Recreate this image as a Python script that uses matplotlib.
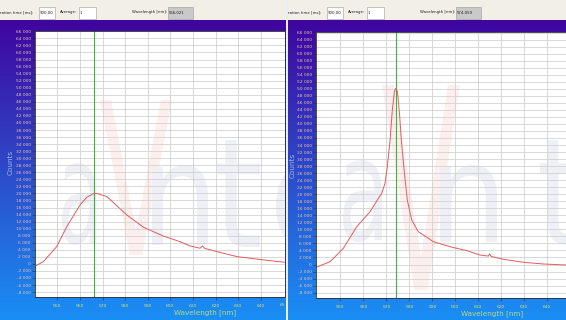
import matplotlib
matplotlib.use("Agg")
import matplotlib.pyplot as plt
import numpy as np
from matplotlib.patches import Rectangle, PathPatch
from matplotlib.textpath import TextPath
from matplotlib.font_manager import FontProperties
from matplotlib.transforms import Affine2D
from matplotlib.ticker import FuncFormatter

W, H = 566, 320

# Spektrum links (Wellenlaenge in nm, Counts)
left_wl = [540.6, 543.8, 549.7, 554.2, 560.0, 563.0, 565.9, 567.4, 571.9, 580.7,
           588.1, 596.9, 604.3, 608.7, 613.1, 614.3, 615.2, 620.5, 629.4, 641.2, 650.7]
left_counts = [-500, 650, 4900, 10600, 16700, 18900, 19900, 20000, 19100, 13900,
               10400, 7900, 6300, 5100, 4450, 5100, 4400, 3500, 2070, 1130, 450]

# Spektrum rechts
right_wl = [539.5, 545.5, 551.3, 557.1, 562.9, 566.5, 568.0, 569.4, 570.4, 571.6,
            572.6, 573.5, 574.1, 574.8, 575.7, 576.5, 577.7, 579.1, 581.0, 583.9,
            586.1, 590.4, 597.7, 605.0, 610.7, 614.3, 614.9, 615.6, 620.9, 629.6,
            638.3, 648.1]
right_counts = [-800, 800, 4600, 10750, 15000, 18800, 20250, 23100, 27800, 35400,
                44000, 49200, 50100, 49200, 43000, 35400, 26900, 18350, 12650, 9300,
                8400, 6500, 5060, 3930, 2700, 2400, 3000, 2300, 1480, 630,
                140, -140]

marker_wl = [566.021, 574.059]
marker_txt = ["566,021", "574,059"]

yticks = list(range(-8000, 66001, 2000))
xticks_left = list(range(550, 651, 10))
xticks_right = list(range(550, 641, 10))

fig = plt.figure(figsize=(W / 100, H / 100), dpi=100)

# Hintergrund: Verlauf lila -> blau
bg = fig.add_axes([0, 0, 1, 1])
bg.set_xlim(0, W)
bg.set_ylim(H, 0)
bg.axis("off")
t = np.linspace(0, 1, 300)[:, None]
top = np.array([0.25, 0.02, 0.62])
bot = np.array([0.10, 0.56, 0.96])
grad = (top * (1 - t) + bot * t)[:, None, :]
grad = np.repeat(grad, 2, axis=1)
bg.imshow(grad, extent=(0, W, H, 20), aspect="auto", origin="upper")
bg.add_patch(Rectangle((0, 0), W, 20, fc="#f1efe6", ec="none"))
bg.add_patch(Rectangle((286, 0), 2, H, fc="#e8ecf4", ec="none"))


def px(x0, y0, x1, y1):
    return [x0 / W, 1 - y1 / H, (x1 - x0) / W, (y1 - y0) / H]


def toolbar(x, wl_txt):
    kw = dict(fontsize=2.8, va="center", color="#202020")
    bg.text(x, 12.5, "ration time [ms]:", **kw)
    bg.add_patch(Rectangle((x + 39, 7), 16, 12, fc="white", ec="#9a9a9a", lw=0.4))
    bg.text(x + 40, 12.5, "900,00", **kw)
    bg.text(x + 60, 12.5, "Average:", **kw)
    bg.add_patch(Rectangle((x + 79, 7), 17, 12, fc="white", ec="#9a9a9a", lw=0.4))
    bg.text(x + 80, 12.5, "1", **kw)
    bg.text(x + 132, 12.5, "Wavelength [nm]:", **kw)
    bg.add_patch(Rectangle((x + 168, 7), 25, 12, fc="#c9c9c9", ec="#9a9a9a", lw=0.4))
    bg.text(x + 169, 12.5, wl_txt, **kw)


def glyph(ax, ch, box, color):
    tp = TextPath((0, 0), ch, size=1, prop=FontProperties(family="DejaVu Sans"))
    bb = tp.get_extents()
    x0, y0, x1, y1 = box
    tr = (Affine2D().translate(-bb.x0, -bb.y0)
          .scale((x1 - x0) / bb.width / W, (y1 - y0) / bb.height / H)
          .translate(x0 / W, 1 - y1 / H) + fig.transFigure)
    p = PathPatch(tp, transform=tr, fc=color, ec="none", zorder=0.2)
    ax.add_patch(p)
    p.set_clip_path(ax.patch)


def panel(rect, xlim, ylim, xticks, wl, counts, mark, watermark):
    ax = fig.add_axes(px(*rect))
    ax.set_facecolor("white")
    ax.set_xlim(*xlim)
    ax.set_ylim(*ylim)
    ax.set_axisbelow(True)
    ax.set_yticks(yticks)
    ax.set_xticks(xticks)
    ax.yaxis.set_major_formatter(FuncFormatter(lambda v, p: f"{int(v):,}".replace(",", " ")))
    ax.grid(True, color="#d2d2d2", lw=0.6)
    ax.tick_params(axis="y", labelsize=3.2, labelcolor="#e8c0aa", length=2.2, width=0.4,
                   color="#303030", pad=0.8)
    ax.tick_params(axis="x", labelsize=3.2, labelcolor="#d4e070", length=2.2, width=0.4,
                   color="#303030", pad=2.5)
    for s in ax.spines.values():
        s.set_color("#303030")
        s.set_linewidth(0.6)
    for ch, box, col in watermark:
        glyph(ax, ch, box, col)
    ax.axvline(mark, color="#3cb43c", lw=0.8, zorder=1.5)
    ax.plot(wl, counts, color="#e25c5c", lw=0.7, zorder=2)
    return ax


gray = "#eef0f5"
pink = "#fcefed"

toolbar(0, marker_txt[0])
panel((35, 31, 285, 297), (540.1, 650.75), (-9400, 66100), xticks_left[:-1],
      left_wl, left_counts, marker_wl[0],
      [("a", (62, 163, 96, 245), gray), ("V", (100, 100, 172, 255), pink),
       ("n", (152, 165, 208, 245), gray), ("t", (217, 140, 260, 247), gray),
       ("e", (276, 165, 330, 247), gray)])
fig.text(11 / W, 1 - 162 / H, "Counts", rotation=90, fontsize=5.2, color="#9cb8e0",
         ha="center", va="center")
fig.text(205 / W, 1 - 313 / H, "Wavelength [nm]", fontsize=5.2, color="#b4dc7c",
         ha="center", va="center")
fig.text(283 / W, 1 - 305 / H, "65", fontsize=3.2, color="#d4e070",
         ha="center", va="center")

toolbar(288, marker_txt[1])
panel((316, 32, 566, 298), (539.4, 648.1), (-9530, 66150), xticks_right,
      right_wl, right_counts, marker_wl[1],
      [("a", (343, 160, 382, 242), gray), ("V", (382, 85, 460, 290), pink),
       ("n", (440, 165, 497, 242), gray), ("t", (540, 140, 580, 245), gray)])
fig.text(293 / W, 1 - 165 / H, "Counts", rotation=90, fontsize=5.2, color="#9cb8e0",
         ha="center", va="center")
fig.text(492 / W, 1 - 314 / H, "Wavelength [nm]", fontsize=5.2, color="#b4dc7c",
         ha="center", va="center")

fig.savefig("out.png", dpi=100)
